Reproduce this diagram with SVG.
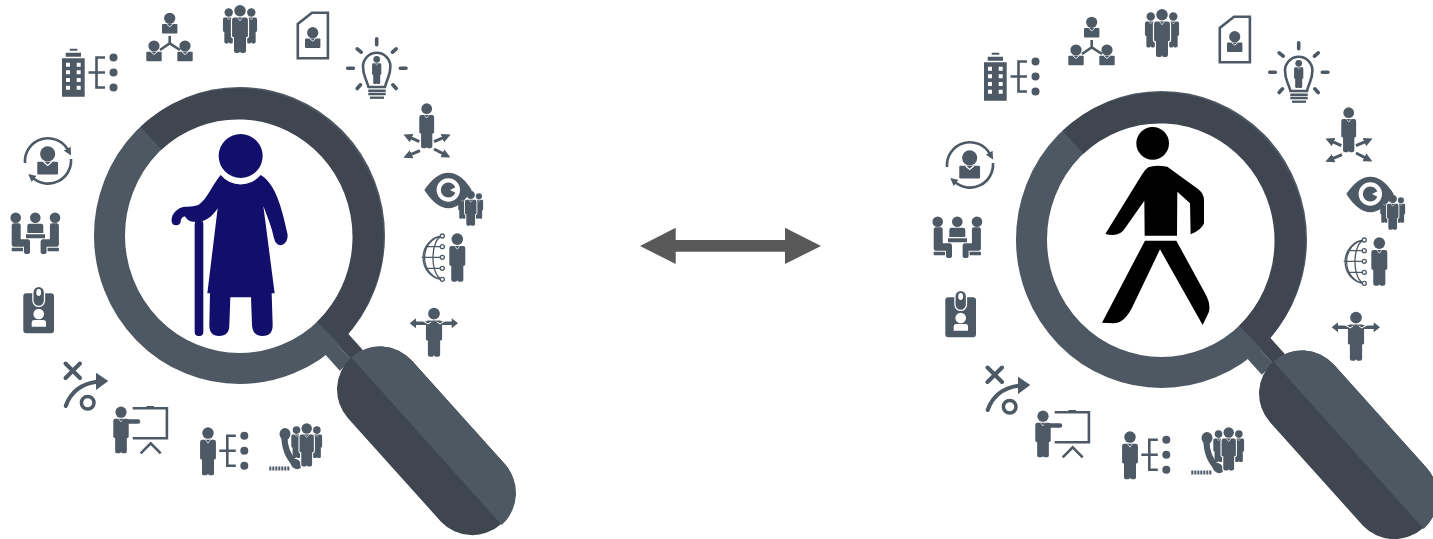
<svg xmlns="http://www.w3.org/2000/svg" xmlns:xlink="http://www.w3.org/1999/xlink" width="1433" height="539" viewBox="0 0 1433 539">
<style>
.ic{fill:#4d5965}
.ln{fill:none;stroke:#4d5965;stroke-width:2.6}
.wh{fill:#fff}
.cl{fill:none;stroke:#fff}
.dk{fill:#3f4650}
.lt{fill:#4d5863}
.sp{fill:none;stroke:#4d5965;stroke-width:3}
</style>
<defs>
<g id="man" class="ic"><circle cy="12" r="12"/><path d="M-12,26H12Q16.500,26 16.500,31V64Q16.500,67 14,67H12.500V96Q12.500,100 8,100H3.500Q1,100 0,97Q-1,100 -3.500,100H-8Q-12.500,100 -12.500,96V67H-14Q-16.500,67 -16.500,64V31Q-16.500,26 -12,26Z"/><path class="cl" stroke-width="1.500" d="M-5,26.500L0,33L5,26.500"/></g>
<g id="bust" class="ic"><circle r="5.600"/><rect x="-7.700" y="5.800" width="15.400" height="9.500" rx="1"/><path class="cl" stroke-width=".9" d="M-3,6L0,8.500L3,6"/></g>
<g id="crowd"><use xlink:href="#man" href="#man" transform="translate(-23.500,7) scale(.73)"/><use xlink:href="#man" href="#man" transform="translate(23.500,7) scale(.73)"/><path d="M-12,26H12Q16.500,26 16.500,31V64Q16.500,67 14,67H12.500V96Q12.500,100 8,100H3.500Q1,100 0,97Q-1,100 -3.500,100H-8Q-12.500,100 -12.500,96V67H-14Q-16.500,67 -16.500,64V31Q-16.500,26 -12,26Z" fill="none" stroke="#fff" stroke-width="5"/><use xlink:href="#man" href="#man"/></g>
<g id="tree"><path class="ln" d="M0,0H8M16.500,-15H8V15H16.500M8,0H16.500"/><circle class="ic" cx="25" cy="-15" r="4"/><circle class="ic" cx="25" r="4"/><circle class="ic" cx="25" cy="15" r="4"/></g>
<marker id="ah" viewBox="0 0 10 10" refX="2" refY="5" markerWidth="3" markerHeight="3.400" orient="auto"><path class="ic" d="M0,0L10,5L0,10Z"/></marker>
<g id="lens">
<path class="lt" d="M322.800,328.600L311.300,338.900L339.800,370.700L351.300,360Z"/>
<path class="dk" d="M322.800,328.600L334.300,318.300L362.800,350L351.300,360Z"/>
<ellipse cx="239.500" cy="235.500" rx="130" ry="133" fill="none" stroke="#4d5863" stroke-width="31"/>
<path d="M151,138.100A130,133 0 0 1 328,332.900" fill="none" stroke="#3f4650" stroke-width="31"/>
<path class="dk" d="M351.300,357.500A43,43 0 0 1 412,360.800L505,464.300A43,43 0 0 1 441,521.700L348,418.200A43,43 0 0 1 351.300,357.500Z"/>
<path class="lt" d="M351.300,357.500A43,43 0 0 1 412,360.800L505,464.300A43,43 0 0 1 501.700,525Z"/>
</g>
<g id="icons">
<g id="icon-building"><path class="ic" d="M62,58.300H84.700V96.700H62ZM65.700,52.700H81V56.700H65.700ZM69.700,48.700H77.300V50.700H69.700Z"/>
<path class="wh" d="M66,62.700h4v4h-4zM76.700,62.700h4v4h-4zM66,70.300h4v4h-4zM76.700,70.300h4v4h-4zM66,78h4v4h-4zM76.700,78h4v4h-4zM66,85.700h4v4h-4zM76.700,85.700h4v4h-4z"/>
<use xlink:href="#tree" href="#tree" transform="translate(88.500,72.500)"/></g>
<g id="icon-org"><use xlink:href="#bust" href="#bust" transform="translate(169.700,18.300)"/><use xlink:href="#bust" href="#bust" transform="translate(154,46)"/><use xlink:href="#bust" href="#bust" transform="translate(185,46)"/><path class="ln" d="M169.700,36V43.300L160,50M169.700,43.300L180,50"/></g>
<use id="icon-team" xlink:href="#crowd" href="#crowd" transform="translate(240,5) scale(.48)"/>
<g id="icon-doc"><path class="ln" d="M297.800,58.200V23.900L312,12.800H327.900V58.200Z"/><use xlink:href="#bust" href="#bust" transform="translate(312.700,32.700)"/></g>
<g id="icon-bulb"><path d="M376.700,38.700V44.700M347.700,68.300H353.300M400.300,68.300H406M357.200,48.800L361.200,52.200M396.200,48.800L392.500,52.200M357.200,88.500L360.500,84.800M396.200,88.500L392.800,84.800" fill="none" stroke="#4d5965" stroke-width="3.600" stroke-linecap="round"/>
<path class="ln" d="M368.500,87C366,78 363,76 363,66.500A13.700,13.700 0 0 1 390.400,66.500C390.400,76 387,78 385,87Z"/><path class="ln" d="M368.300,90.700H385.700M368.300,94H385.700"/><path d="M370,97.700H384" fill="none" stroke="#4d5965" stroke-width="2.300"/>
<use xlink:href="#man" href="#man" transform="translate(376.700,56) scale(.28)"/></g>
<g id="icon-spread"><use xlink:href="#man" href="#man" transform="translate(426.700,103.300) scale(.45)"/>
<path class="sp" marker-end="url(#ah)" d="M419.300,141.700L410,137.400"/><path class="sp" marker-end="url(#ah)" d="M434,141.700L444,137.400"/><path class="sp" marker-end="url(#ah)" d="M420,150.700L410,154.900"/><path class="sp" marker-end="url(#ah)" d="M434,149L444,154.200"/></g>
<g id="icon-eye"><path class="ic" d="M424.300,190Q436,172.700 448.300,172.700Q461,172.700 471.700,190Q461,208 448.300,208.300Q436,208 424.300,190Z"/><circle class="wh" cx="448.300" cy="190" r="11.700"/><circle class="ic" cx="448.300" cy="190" r="7.500"/><path class="wh" d="M450,190L457,186.500V193.500Z"/>
<use xlink:href="#crowd" href="#crowd" transform="translate(470.700,190.700) scale(.35)"/></g>
<g id="icon-globe"><path fill="none" stroke="#4d5965" stroke-width="1.300" d="M442.300,236A20.600,21.700 0 0 0 442.300,279.300M442.300,236A19,21.700 0 0 0 442.300,279.300M442.300,236A10,21.700 0 0 0 442.300,279.300M426,246.700H442.300M421.700,257.300H442.300M426,268.300H442.300"/>
<g fill="#fff" stroke="#4d5965" stroke-width="1.300"><circle cx="442.300" cy="236" r="2"/><circle cx="442.300" cy="246.700" r="2"/><circle cx="442.300" cy="257.300" r="2"/><circle cx="442.300" cy="268.300" r="2"/><circle cx="442.300" cy="279.300" r="2"/></g>
<use xlink:href="#man" href="#man" transform="translate(457.300,233.300) scale(.484)"/></g>
<g id="icon-arms"><use xlink:href="#man" href="#man" transform="translate(434,307.700) scale(.49)"/>
<path class="ic" d="M409.700,323.300L416,318.300V321.500H451.700V318.300L458,323.300L451.700,328.300V325.100H416V328.300Z"/><path class="cl" stroke-width="1" d="M423,321L428,324L431,322M445,321L440,324L437,322"/></g>
<g id="icon-cycle"><use xlink:href="#bust" href="#bust" transform="scale(1.35) translate(35.300,114)"/><path class="ln" d="M25,163A23,23 0 0 1 68,150" marker-end="url(#ah)"/><path class="ln" d="M71,159A23,23 0 0 1 33,178" marker-end="url(#ah)"/></g>
<g id="icon-meeting"><circle class="ic" cx="15.700" cy="217.700" r="5.300"/><circle class="ic" cx="35.300" cy="217.700" r="5.300"/><circle class="ic" cx="55" cy="217.700" r="5.300"/>
<path class="ic" d="M27.300,233V226Q27.300,223.800 29.500,223.800H41Q43.300,223.800 43.300,226V233ZM26,234.300H45V238.300H26Z"/>
<path class="ic" d="M11.700,225.500Q11.700,223.300 14,223.300H18.700Q20.700,223.300 20.700,225.500V239.300H27.500Q30,239.300 30,242V252Q30,254 27,254Q24,254 24,252V246.700H14Q11.700,246.700 11.700,244ZM11.700,247.800H23V251.300H11.700Z"/>
<path class="ic" d="M58.900,225.500Q58.900,223.300 56.600,223.300H51.900Q49.900,223.300 49.900,225.500V239.300H43.100Q40.600,239.300 40.600,242V252Q40.600,254 43.600,254Q46.600,254 46.600,252V246.700H56.600Q58.900,246.700 58.900,244ZM58.900,247.800H47.600V251.300H58.900Z"/></g>
<g id="icon-badge"><rect class="ic" x="23.300" y="293.300" width="30.700" height="40" rx="3"/><rect class="ic" x="32.900" y="286.400" width="11.600" height="20" rx="5.800" stroke="#fff" stroke-width="1.300"/><ellipse class="wh" cx="38.700" cy="292.500" rx="2.400" ry="3.400"/><circle class="wh" cx="38.700" cy="314" r="5.300"/><path class="wh" d="M31.700,326.700V322.500Q31.700,320 34,320H43.500Q46,320 46,322.500V326.700Z"/></g>
<g id="icon-play"><path d="M65.500,363.500L80,378M80,363.500L65.500,378M65.700,406Q73,385 96.700,381.700" fill="none" stroke="#4d5965" stroke-width="4" stroke-linecap="round"/><path class="ic" d="M108.300,381L96,372.700V390Z"/><circle cx="87.700" cy="402.700" r="6.300" fill="none" stroke="#4d5965" stroke-width="3.500"/></g>
<g id="icon-present"><use xlink:href="#man" href="#man" transform="translate(121,406.600) scale(.467)"/><path d="M124,421.500H138" fill="none" stroke="#4d5965" stroke-width="4.500" stroke-linecap="round"/>
<path class="ln" d="M132.700,408.300H166.900V438.300H132.700M140.700,453.300L150.700,443.300L160.700,453.300"/><path class="ic" d="M146.500,406H154V408H146.500Z"/></g>
<g id="icon-mantree"><use xlink:href="#man" href="#man" transform="translate(208,427.300) scale(.48)"/><use xlink:href="#tree" href="#tree" transform="translate(219.300,450.700)"/></g>
<g id="icon-phone"><ellipse class="ic" cx="285" cy="434" rx="5.500" ry="6"/><ellipse class="ic" cx="296" cy="464" rx="6" ry="4.500" transform="rotate(40 296 464)"/><path d="M284.500,435C284,448 289,458 296,465" fill="none" stroke="#4d5965" stroke-width="6"/><path d="M269.300,468.500H290" fill="none" stroke="#4d5965" stroke-width="4" stroke-dasharray="2 1"/>
<use xlink:href="#crowd" href="#crowd" transform="translate(306.700,423.300) scale(.433)"/></g>
</g>
</defs>
<g id="left-magnifier">
<use xlink:href="#lens" href="#lens"/>
<use xlink:href="#icons" href="#icons"/>
<g id="elderly-person" transform="translate(150,120) scale(.33333)" fill="#120e6b">
<circle cx="272" cy="108" r="66"/>
<path d="M212,165A78,78 0 0 0 332,165C375,190 395,260 412,340A20,27 0 0 1 372,355C365,320 352,290 340,258L374,520H365L368,615Q368,648 338,648Q308,648 306,615L303,532H241L238,615Q238,648 207,648Q178,648 178,615L180,520H172L203,265C190,285 175,298 160,302C125,310 112,302 106,290C100,288 92,295 92,306A14,14 0 0 1 65,305C62,285 80,262 105,260Q125,262 145,255C170,240 190,190 212,165Z"/>
<rect x="134" y="300" width="26" height="348" rx="12"/>
</g>
</g>
<g id="right-magnifier">
<use xlink:href="#lens" href="#lens" transform="translate(922,4)"/>
<use xlink:href="#icons" href="#icons" transform="translate(922,4)"/>
<g id="walking-person" transform="translate(1080,110) scale(.33333)" fill="#000">
<circle cx="218" cy="100" r="49"/>
<path d="M205,172Q225,163 262,170L355,238Q372,252 372,270V340Q365,360 332,373L330,280L292,245L291,377H194L193,272L135,355Q120,382 76,372L185,195Q195,178 205,172Z"/>
<path d="M195,392H289L375,550Q395,585 385,610L368,645L240,418L160,585Q135,640 100,640L66,638Z"/>
</g>
</g>
<g id="connectors">
<path id="double-arrow" fill="#595959" d="M640,246L675.700,227.700V240H785V227.700L821,246L785,264V251.700H675.700V264Z"/>
</g>
</svg>
